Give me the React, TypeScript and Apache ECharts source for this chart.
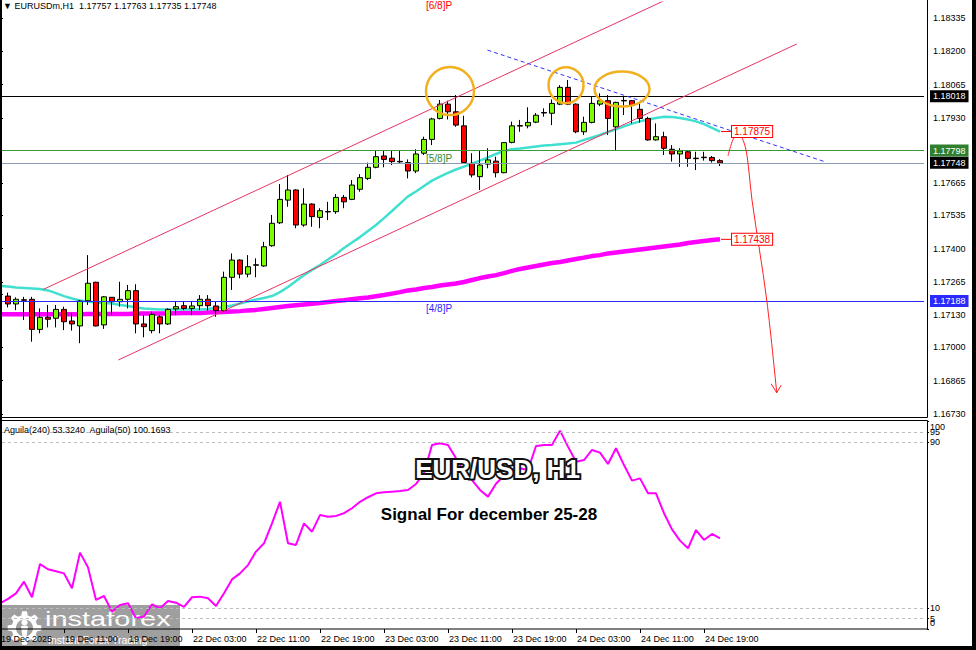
import React, { useEffect, useRef } from "react";
import * as echarts from "echarts";

const FONT = "'Liberation Sans', Arial, sans-serif";

const TITLE_TEXT = "▼ EURUSDm,H1  1.17757 1.17763 1.17735 1.17748";
const INDICATOR_TEXT = "Aguila(240) 53.3240  Aguila(50) 100.1693";
const HEADLINE = "EUR/USD, H1";
const SUBHEADLINE = "Signal For december 25-28";
const LOGO_TEXT = "instaforex";
const LOGO_SUBTEXT = "Instant Forex Trading";

const TIME_LABELS = [
  "19 Dec 2025", "19 Dec 11:00", "19 Dec 19:00", "22 Dec 03:00", "22 Dec 11:00", "22 Dec 19:00",
  "23 Dec 03:00", "23 Dec 11:00", "23 Dec 19:00", "24 Dec 03:00", "24 Dec 11:00", "24 Dec 19:00",
];
const LABEL_EVERY = 8;
const CATEGORY_COUNT = 116;

const PRICE_TICKS = [1.1673, 1.16865, 1.17, 1.1713, 1.17265, 1.174, 1.17535, 1.17665, 1.1793, 1.18065, 1.182, 1.18335];
const PRICE_MIN = 1.1673;
const PRICE_MAX = 1.184;
const AGUILA_TICKS = [0, 5, 10, 90, 95, 100];
const AGUILA_INNER_TICKS = [5, 10, 90, 95];
const AGUILA_EDGE_TICKS = [0, 100];
const AGUILA_LEVELS = [5, 10, 90, 95];

const OPEN = [
  1.17215,
  1.17208, 1.17176, 1.17193, 1.17195, 1.17073, 1.17122, 1.17118, 1.17154, 1.17107, 1.17087,
  1.17189, 1.17264, 1.17091, 1.17203, 1.17185, 1.17195, 1.1723, 1.17095, 1.17068, 1.17124,
  1.17095, 1.17156, 1.17169, 1.17158, 1.17169, 1.17195, 1.17168, 1.17149, 1.17284, 1.17354,
  1.17297, 1.17333, 1.1733, 1.17412, 1.17505, 1.17597, 1.17638, 1.17496, 1.17581, 1.17527,
  1.17549, 1.1755, 1.17608, 1.176, 1.17641, 1.17685, 1.1773, 1.17776, 1.17767, 1.17754,
  1.17749, 1.17715, 1.17787, 1.17843, 1.17928, 1.17986, 1.17955, 1.17898, 1.17746, 1.17692,
  1.17743, 1.17755, 1.17708, 1.17831, 1.17899, 1.17898, 1.17913, 1.17952, 1.17949, 1.17986,
  1.18054, 1.17986, 1.17874, 1.17912, 1.17986, 1.18, 1.17894, 1.18001, 1.18, 1.17965,
  1.17928, 1.17841, 1.17854, 1.17803, 1.17784, 1.17793, 1.17767, 1.17769, 1.1777, 1.17757,
];
const CLOSE = [
  1.17214,
  1.17176, 1.17195, 1.17191, 1.17073, 1.17122, 1.17114, 1.17154, 1.17104, 1.17095, 1.17188,
  1.1726, 1.17087, 1.17205, 1.17185, 1.17195, 1.1723, 1.17095, 1.17084, 1.17134, 1.17095,
  1.17154, 1.17165, 1.17158, 1.17168, 1.17195, 1.17169, 1.17149, 1.17284, 1.17354, 1.17297,
  1.17327, 1.17335, 1.17408, 1.17503, 1.176, 1.17638, 1.17496, 1.17581, 1.1753, 1.17554,
  1.17551, 1.17608, 1.1759, 1.17658, 1.17688, 1.1773, 1.17773, 1.17762, 1.17753, 1.17752,
  1.17715, 1.17784, 1.17843, 1.17926, 1.17986, 1.17955, 1.17901, 1.17749, 1.17699, 1.17739,
  1.1776, 1.17708, 1.1783, 1.17898, 1.17897, 1.17912, 1.17941, 1.1795, 1.17989, 1.18054,
  1.17986, 1.17874, 1.17912, 1.17989, 1.18, 1.17928, 1.17993, 1.17999, 1.17982, 1.17928,
  1.17841, 1.17854, 1.17807, 1.17784, 1.17796, 1.17766, 1.17765, 1.17771, 1.17757, 1.17748,
];
const HIGH = [
  1.17222,
  1.17222, 1.17203, 1.17205, 1.17205, 1.17158, 1.17172, 1.17172, 1.17165, 1.17138, 1.17192,
  1.17374, 1.17266, 1.17208, 1.17204, 1.17266, 1.17253, 1.17256, 1.17131, 1.17145, 1.17131,
  1.17158, 1.17188, 1.17185, 1.17185, 1.17212, 1.17212, 1.17185, 1.17307, 1.17381, 1.17357,
  1.17374, 1.17361, 1.17428, 1.17537, 1.17662, 1.17699, 1.17641, 1.17645, 1.17584, 1.17564,
  1.1759, 1.17622, 1.17618, 1.17678, 1.17702, 1.17749, 1.178, 1.17796, 1.17797, 1.17797,
  1.17762, 1.17803, 1.17854, 1.17931, 1.18003, 1.18, 1.18023, 1.17939, 1.17787, 1.178,
  1.17807, 1.17773, 1.17832, 1.17915, 1.17922, 1.17973, 1.1795, 1.17969, 1.18005, 1.18063,
  1.18084, 1.17989, 1.17935, 1.18016, 1.1803, 1.18023, 1.17996, 1.18016, 1.18003, 1.17989,
  1.17935, 1.17908, 1.17874, 1.1782, 1.17807, 1.178, 1.17793, 1.17793, 1.17776, 1.17763,
];
const LOW = [
  1.17205,
  1.17162, 1.17151, 1.17111, 1.17023, 1.17057, 1.17081, 1.17081, 1.1707, 1.17068, 1.17017,
  1.17172, 1.17085, 1.17075, 1.17131, 1.17165, 1.17158, 1.17057, 1.17041, 1.17057, 1.17057,
  1.17091, 1.17131, 1.17151, 1.17131, 1.17151, 1.17149, 1.17124, 1.17145, 1.17233, 1.1728,
  1.17284, 1.17284, 1.17327, 1.17408, 1.175, 1.1757, 1.17483, 1.17489, 1.17489, 1.17483,
  1.17516, 1.17541, 1.17564, 1.17597, 1.17631, 1.17678, 1.17726, 1.1773, 1.17739, 1.17746,
  1.17685, 1.17706, 1.1778, 1.1782, 1.17924, 1.17924, 1.17894, 1.17746, 1.17689, 1.17638,
  1.17726, 1.17689, 1.17706, 1.17827, 1.17874, 1.17888, 1.17909, 1.17935, 1.17901, 1.17982,
  1.17982, 1.17868, 1.17861, 1.17908, 1.17978, 1.17861, 1.17797, 1.17942, 1.17908, 1.17911,
  1.17838, 1.17838, 1.1778, 1.17753, 1.17732, 1.17732, 1.17719, 1.17757, 1.17749, 1.17735,
];
const MA_FAST = [
  1.17249,
  1.17247, 1.17243, 1.17241, 1.17239, 1.17237, 1.17231, 1.1722, 1.17208, 1.17198, 1.1719,
  1.17186, 1.17182, 1.1718, 1.17178, 1.17172, 1.17168, 1.17162, 1.17158, 1.17156, 1.17154,
  1.17154, 1.17154, 1.17154, 1.17154, 1.17154, 1.17156, 1.1716, 1.17164, 1.1717, 1.17178,
  1.17186, 1.17194, 1.172, 1.17208, 1.17224, 1.17245, 1.17269, 1.17293, 1.17314, 1.17334,
  1.17356, 1.17378, 1.17403, 1.17425, 1.17447, 1.17472, 1.17496, 1.17524, 1.17553, 1.17583,
  1.17612, 1.17632, 1.17654, 1.17676, 1.17692, 1.17707, 1.17721, 1.17733, 1.17745, 1.17757,
  1.1777, 1.17784, 1.17796, 1.17803, 1.17806, 1.1781, 1.17814, 1.17818, 1.1782, 1.17823,
  1.17826, 1.1783, 1.17841, 1.17851, 1.17861, 1.17873, 1.17884, 1.17896, 1.17907, 1.17916,
  1.17924, 1.1793, 1.17935, 1.17934, 1.1793, 1.17924, 1.17916, 1.17905, 1.1789, 1.17875,
];
const MA_SLOW = [
  1.17134,
  1.17134, 1.17134, 1.17134, 1.17134, 1.17134, 1.17134, 1.17134, 1.17134, 1.17134, 1.17134,
  1.17135, 1.17135, 1.17135, 1.17135, 1.17135, 1.17135, 1.17137, 1.17137, 1.17137, 1.17137,
  1.17137, 1.17138, 1.17139, 1.17139, 1.17139, 1.17141, 1.17142, 1.17143, 1.17145, 1.17147,
  1.1715, 1.17152, 1.17156, 1.1716, 1.17164, 1.17168, 1.17171, 1.17174, 1.17177, 1.1718,
  1.17184, 1.17188, 1.17191, 1.17195, 1.17199, 1.17202, 1.17207, 1.17212, 1.17218, 1.17224,
  1.17231, 1.17235, 1.17241, 1.17245, 1.17251, 1.17255, 1.17259, 1.17265, 1.17273, 1.17281,
  1.17287, 1.17293, 1.17301, 1.1731, 1.17318, 1.17324, 1.1733, 1.17336, 1.17342, 1.17346,
  1.17352, 1.17358, 1.17364, 1.1737, 1.17374, 1.17381, 1.17385, 1.17389, 1.17393, 1.17397,
  1.17401, 1.17405, 1.17409, 1.17413, 1.17417, 1.17423, 1.17427, 1.17431, 1.17435, 1.17438,
];
const AGUILA = [
  12.4,
  14.5, 17.2, 22.8, 15.3, 31.3, 28.8, 27.8, 26.8, 19.6, 36.8,
  29.7, 14, 15.9, 8.3, 11.6, 12.4, 5.2, 6, 11.9, 10,
  13.5, 12.7, 10.7, 15.3, 15.6, 14.8, 11.1, 17.2, 23.9, 26.8,
  30.8, 37.3, 41.3, 50.9, 61.3, 41.3, 40.5, 50.9, 46.9, 54.9,
  54.1, 54.5, 55.8, 58.2, 61.3, 63.5, 65.4, 65.9, 66.2, 66.5,
  67, 69.9, 75, 88.7, 89.5, 88.7, 82.3, 76, 71.8, 67,
  63.8, 70, 74, 77, 77.5, 76.6, 88.2, 88.7, 88.7, 95.6,
  87.9, 80.6, 81.4, 86.3, 85, 79.5, 87.1, 79, 71.5, 72.6,
  65.4, 65.4, 55.8, 48, 42.6, 38.9, 47.7, 42.9, 45.8, 43.7,
];

const LEVEL_PRICES = [1.18018, 1.17798, 1.17748, 1.17188];
const LEVEL_LINE_COLORS = ["#000000", "#3a9a3a", "#8b9cb6", "#2a2aff"];
const LEVEL_LABEL_COLORS = ["#000000", "#2f7f2f", "#000000", "#2a2aff"];

const MURREY_LABELS = ["[6/8]P", "[5/8]P", "[4/8]P"];
const MURREY_PRICES = [1.18408, 1.17798, 1.17188];
const MURREY_COLORS = ["#ff0000", "#2e8b2e", "#2a2aff"];
const MURREY_INDEX = 53.25;

// annotation geometry in (bar index, price)
const CHANNEL_UPPER = [[5.41, 1.17235], [87.5, 1.18473]];
const CHANNEL_LOWER = [[14.79, 1.16949], [99.6, 1.1823]];
const RESISTANCE_LINE = [[60.93, 1.18205], [103.25, 1.17751]];
const ARROW_PATH = [
  [91.0, 1.17776], [91.375, 1.1782], [91.75, 1.17849], [92.25, 1.17859], [92.75, 1.17849],
  [93.25, 1.178], [93.625, 1.17711], [94.0, 1.17597], [95.84, 1.17192], [97.09, 1.16816],
];
const ARROW_HEAD = [[96.4, 1.16852], [97.09, 1.16816], [97.65, 1.16847]];
const ELLIPSE_CENTERS = [[56.25, 1.18039], [70.75, 1.18063], [77.75, 1.18047]];
const ELLIPSE_RADII = [[24, 24], [17.5, 18], [27.5, 17.5]];

const CATEGORIES = Array.from({ length: CATEGORY_COUNT }, (_, k) => String(k));
const isLabelIndex = (index: number) => index % LABEL_EVERY === 0 && index / LABEL_EVERY < TIME_LABELS.length;

function gearPath(): string {
  const teeth = 8;
  const rOuter = 17;
  const rRoot = 13;
  const rHole = 8.5;
  const step = (Math.PI * 2) / teeth;
  const pts: number[][] = [];
  for (let t = 0; t < teeth; t++) {
    const a0 = t * step - Math.PI / 2 - step * 0.32;
    const ring = [[a0, rRoot], [a0 + step * 0.14, rOuter], [a0 + step * 0.5, rOuter], [a0 + step * 0.64, rRoot]];
    for (const [a, r] of ring) pts.push([r * Math.cos(a), r * Math.sin(a)]);
  }
  const hole: number[][] = [];
  for (let i = 0; i < 28; i++) {
    const a = -(i / 28) * Math.PI * 2;
    hole.push([rHole * Math.cos(a), rHole * Math.sin(a)]);
  }
  const toD = (arr: number[][]) => "M" + arr.map((p) => p[0].toFixed(2) + " " + p[1].toFixed(2)).join(" L") + " Z";
  return toD(pts) + " " + toD(hole);
}

let gearRegistered = false;
function ensureGear() {
  if (gearRegistered) return;
  echarts.graphic.registerShape("igear", echarts.graphic.extendPath(gearPath(), {}) as any);
  gearRegistered = true;
}

function buildOption(): any {
  const candles = OPEN.map((o, i) => [o, CLOSE[i], LOW[i], HIGH[i]]);
  const trendLine = (data: number[][], color: string, type: any = "solid", smooth: any = false) => ({
    type: "line",
    xAxisIndex: 1,
    yAxisIndex: 0,
    data,
    smooth,
    symbol: "none",
    showSymbol: false,
    silent: true,
    z: 6,
    lineStyle: { color, width: 1, type },
  });
  return {
    animation: false,
    backgroundColor: "#ffffff",
    textStyle: { fontFamily: FONT },
    title: [
      { text: TITLE_TEXT, left: 3, top: 1, padding: 0, textStyle: { fontSize: 9, fontWeight: "normal", color: "#000", fontFamily: FONT } },
      { text: INDICATOR_TEXT, left: 4, top: 425, padding: 0, textStyle: { fontSize: 9, fontWeight: "normal", color: "#000", fontFamily: FONT } },
    ],
    grid: [
      { left: -4, top: 2, width: 928, height: 412, outerBoundsMode: "none", containLabel: false },
      { left: -4, top: 421.5, width: 928, height: 207.5, outerBoundsMode: "none", containLabel: false },
    ],
    xAxis: [
      { type: "category", gridIndex: 0, data: CATEGORIES, boundaryGap: true, show: false },
      { type: "value", gridIndex: 0, min: -0.5, max: CATEGORY_COUNT - 0.5, show: false },
      {
        type: "category",
        gridIndex: 1,
        data: CATEGORIES,
        boundaryGap: true,
        axisLine: { show: false },
        axisTick: { show: true, interval: (i: number) => isLabelIndex(i), alignWithLabel: true, length: 4, lineStyle: { color: "#000" } },
        axisLabel: {
          interval: (i: number) => isLabelIndex(i),
          formatter: (_v: string, i: number) => (isLabelIndex(i) ? TIME_LABELS[i / LABEL_EVERY] : ""),
          align: "left",
          margin: 5,
          fontSize: 9,
          color: "#000",
          fontFamily: FONT,
          padding: [0, 0, 0, 1],
        },
        splitLine: { show: false },
      },
    ],
    yAxis: [
      {
        type: "value",
        gridIndex: 0,
        min: PRICE_MIN,
        max: PRICE_MAX,
        position: "right",
        offset: 3,
        axisLine: { show: false },
        axisTick: { show: true, length: 3, customValues: PRICE_TICKS, lineStyle: { color: "#000" } },
        axisLabel: { customValues: PRICE_TICKS, formatter: (v: number) => v.toFixed(5), fontSize: 9, color: "#000", margin: 6, fontFamily: FONT },
        splitLine: { show: false },
      },
      {
        type: "value",
        gridIndex: 1,
        min: 0,
        max: 100,
        position: "right",
        offset: 3,
        axisLine: { show: false },
        axisTick: { show: true, length: 2, customValues: AGUILA_TICKS, lineStyle: { color: "#000" } },
        axisLabel: { customValues: AGUILA_INNER_TICKS, fontSize: 9, color: "#000", margin: 3, fontFamily: FONT },
        splitLine: { show: false },
      },
      {
        type: "value",
        gridIndex: 1,
        min: 0,
        max: 100,
        position: "right",
        offset: 3,
        axisLine: { show: false },
        axisTick: { show: false },
        axisLabel: {
          customValues: AGUILA_EDGE_TICKS,
          showMinLabel: true,
          showMaxLabel: true,
          fontSize: 9,
          color: "#000",
          margin: 3,
          fontFamily: FONT,
          formatter: (v: number) => (v === 100 ? `{down|${v}}` : `{up|${v}}`),
          rich: {
            down: { fontSize: 9, color: "#000", fontFamily: FONT, padding: [10, 0, 0, 0] },
            up: { fontSize: 9, color: "#000", fontFamily: FONT, padding: [0, 0, 12, 0] },
          },
        },
        splitLine: { show: false },
      },
    ],
    series: [
      {
        name: "MA slow",
        type: "line",
        xAxisIndex: 0,
        yAxisIndex: 0,
        data: MA_SLOW,
        symbol: "none",
        showSymbol: false,
        silent: true,
        z: 2,
        lineStyle: { color: "#ff00ff", width: 4.5 },
      },
      {
        name: "MA fast",
        type: "line",
        xAxisIndex: 0,
        yAxisIndex: 0,
        data: MA_FAST,
        symbol: "none",
        showSymbol: false,
        silent: true,
        z: 2,
        lineStyle: { color: "#40e0d0", width: 2.5 },
        markLine: {
          silent: true,
          symbol: ["none", "none"],
          precision: 5,
          animation: false,
          data: LEVEL_PRICES.map((p, i) => ({
            yAxis: p,
            lineStyle: { color: LEVEL_LINE_COLORS[i], width: 1, type: "solid" },
            label: {
              show: true,
              position: "end",
              distance: 6,
              formatter: () => p.toFixed(5),
              color: "#fff",
              backgroundColor: LEVEL_LABEL_COLORS[i],
              padding: [2, 3, 1, 3],
              fontSize: 9,
              fontFamily: FONT,
            },
          })),
        },
      },
      {
        name: "EURUSD",
        type: "candlestick",
        xAxisIndex: 0,
        yAxisIndex: 0,
        data: candles,
        barWidth: 5,
        silent: true,
        z: 3,
        itemStyle: {
          color: "#7cfc00",
          color0: "#ff0000",
          borderColor: "#000000",
          borderColor0: "#000000",
          borderColorDoji: "#000000",
          borderWidth: 1,
        },
      },
      trendLine(CHANNEL_UPPER, "#e63462"),
      trendLine(CHANNEL_LOWER, "#e63462"),
      trendLine(RESISTANCE_LINE, "#3434ff", [4, 3]),
      trendLine(ARROW_PATH, "#ff2020", "solid", 0.35),
      trendLine(ARROW_HEAD, "#ff2020"),
      {
        name: "Aguila",
        type: "line",
        xAxisIndex: 2,
        yAxisIndex: 1,
        data: AGUILA,
        symbol: "none",
        showSymbol: false,
        silent: true,
        z: 3,
        lineStyle: { color: "#ff00ff", width: 2 },
        markLine: {
          silent: true,
          symbol: ["none", "none"],
          precision: 2,
          animation: false,
          label: { show: false },
          lineStyle: { color: "#bdbdbd", width: 1, type: [3, 3] },
          data: AGUILA_LEVELS.map((v) => ({ yAxis: v })),
        },
      },
    ],
  };
}

function buildGraphics(chart: any): any[] {
  const px = (k: number, p: number): number[] => chart.convertToPixel({ seriesIndex: 3 }, [k, p]);
  const last = OPEN.length - 1;
  const els: any[] = [];

  // panel borders
  els.push({ type: "line", z: 40, shape: { x1: 927.5, y1: 0, x2: 927.5, y2: 417.5 }, style: { stroke: "#000", lineWidth: 1 } });
  els.push({ type: "line", z: 40, shape: { x1: 0, y1: 417.5, x2: 927.5, y2: 417.5 }, style: { stroke: "#000", lineWidth: 1 } });
  els.push({ type: "rect", z: 40, shape: { x: 0.5, y: 420.5, width: 927, height: 208.5 }, style: { fill: "none", stroke: "#000", lineWidth: 1 } });

  // ellipses
  ELLIPSE_CENTERS.forEach((c, i) => {
    const [cx, cy] = px(c[0], c[1]);
    els.push({
      type: "ellipse",
      z: 60,
      shape: { cx, cy, rx: ELLIPSE_RADII[i][0], ry: ELLIPSE_RADII[i][1] },
      style: { fill: "none", stroke: "#f2b01e", lineWidth: 2.5 },
    });
  });

  // murrey labels
  MURREY_LABELS.forEach((t, i) => {
    const [x, y] = px(MURREY_INDEX, MURREY_PRICES[i]);
    els.push({
      type: "text",
      z: 60,
      x,
      y: i === 0 ? Math.max(0, y - 1) : y + 2.5,
      style: { text: t, fill: MURREY_COLORS[i], font: `10px ${FONT}`, verticalAlign: "top", align: "left" },
    });
  });

  // moving average end labels
  [MA_FAST[last], MA_SLOW[last]].forEach((v) => {
    const [x, y] = px(last, v);
    els.push({ type: "line", z: 60, shape: { x1: x + 1, y1: y, x2: x + 12, y2: y }, style: { stroke: "#ff0000", lineWidth: 1 } });
    els.push({
      type: "text",
      z: 61,
      x: x + 12,
      y,
      style: {
        text: v.toFixed(5),
        fill: "#ff0000",
        font: `10px ${FONT}`,
        verticalAlign: "middle",
        align: "left",
        backgroundColor: "#ffffff",
        borderColor: "#ff0000",
        borderWidth: 1,
        padding: [1, 2, 0, 2],
      },
    });
  });

  // headline texts
  els.push({
    type: "text",
    z: 70,
    x: 497.5,
    y: 468.5,
    style: {
      text: HEADLINE,
      font: `bold 26px ${FONT}`,
      fill: "#111",
      stroke: "#111",
      lineWidth: 4,
      align: "center",
      verticalAlign: "middle",
      shadowColor: "rgba(0,0,0,0.45)",
      shadowBlur: 3,
      shadowOffsetX: 2,
      shadowOffsetY: 2,
    },
  });
  els.push({
    type: "text",
    z: 71,
    x: 497.5,
    y: 468.5,
    style: { text: HEADLINE, font: `bold 26px ${FONT}`, fill: "#ffffff", align: "center", verticalAlign: "middle" },
  });
  els.push({
    type: "text",
    z: 70,
    x: 489,
    y: 514,
    style: {
      text: SUBHEADLINE,
      font: `bold 17px ${FONT}`,
      fill: "#000",
      align: "center",
      verticalAlign: "middle",
      shadowColor: "rgba(0,0,0,0.4)",
      shadowBlur: 2,
      shadowOffsetX: 2,
      shadowOffsetY: 2,
    },
  });

  // logo
  els.push({
    type: "group",
    z: 90,
    children: [
      { type: "rect", shape: { x: 0, y: 605, width: 180, height: 45 }, style: { fill: "rgba(100,100,100,0.62)" } },
      { type: "igear", x: 24.5, y: 628, style: { fill: "#ffffff" } },
      { type: "circle", shape: { cx: 24.5, cy: 622.5, r: 3.2 }, style: { fill: "#ffffff" } },
      { type: "polygon", shape: { points: [[21, 626], [28, 626], [26.5, 637], [22.5, 637]] }, style: { fill: "#ffffff" } },
      {
        type: "text",
        x: 45,
        y: 609,
        scaleX: 1.45,
        style: { text: LOGO_TEXT, fill: "#ffffff", font: `20px ${FONT}`, verticalAlign: "top", align: "left" },
      },
      {
        type: "text",
        x: 48,
        y: 639.5,
        style: { text: LOGO_SUBTEXT, fill: "#ffffff", font: `10.5px ${FONT}`, verticalAlign: "middle", align: "left" },
      },
    ],
  });

  // outer frame
  els.push({ type: "rect", z: 95, shape: { x: 0, y: 0, width: 2, height: 650 }, style: { fill: "#000" } });
  els.push({ type: "rect", z: 95, shape: { x: 972, y: 0, width: 4, height: 650 }, style: { fill: "#000" } });
  els.push({ type: "rect", z: 95, shape: { x: 0, y: 646, width: 976, height: 4 }, style: { fill: "#000" } });

  return els;
}

export default function App() {
  const ref = useRef<HTMLDivElement>(null);
  useEffect(() => {
    if (!ref.current) return;
    ensureGear();
    const chart = echarts.init(ref.current, undefined, { renderer: "svg", width: 976, height: 650 });
    chart.setOption(buildOption());
    chart.setOption({ graphic: { elements: buildGraphics(chart) } });
    return () => chart.dispose();
  }, []);
  return (
    <div
      ref={ref}
      style={{ position: "fixed", left: 0, top: 0, width: 976, height: 650, background: "#ffffff" }}
    />
  );
}
